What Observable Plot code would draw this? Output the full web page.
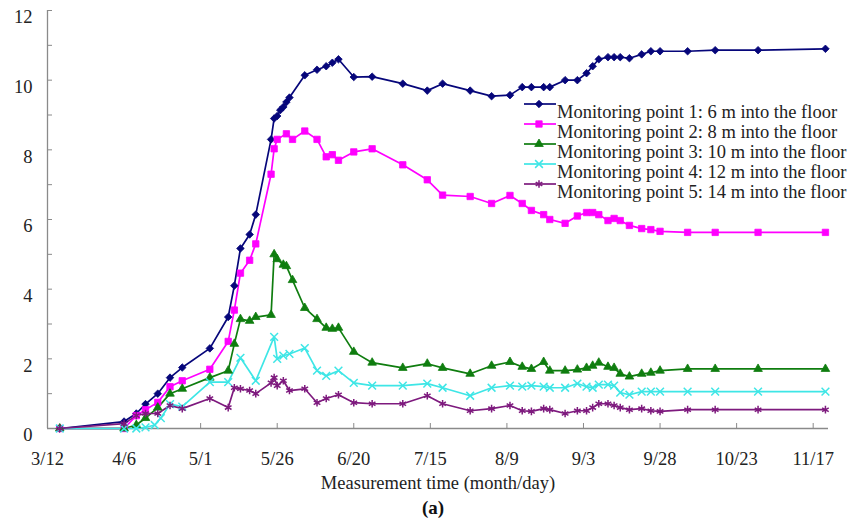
<!DOCTYPE html>
<html><head><meta charset="utf-8">
<script src="https://cdn.jsdelivr.net/npm/d3@7"></script>
<script src="https://cdn.jsdelivr.net/npm/@observablehq/plot@0.6"></script>
<style>
body{margin:0;background:#fff;font-family:"Liberation Serif","Times New Roman",serif;}
#wrap{position:relative;width:862px;height:524px;overflow:hidden;}
#legend{position:absolute;left:0;top:0;}
.lrow{position:absolute;font-size:18.5px;color:#222;white-space:nowrap;line-height:20px;}
#cap{position:absolute;left:0;width:866px;top:497px;text-align:center;font-weight:bold;font-size:19px;color:#111;line-height:22px;}
</style></head><body>
<div id="wrap"><div id="chart"></div><div id="legend"></div><div id="cap">(a)</div></div>
<script>
const seriesNames = [
  "Monitoring point 1: 6 m into the floor",
  "Monitoring point 2: 8 m into the floor",
  "Monitoring point 3: 10 m into the floor",
  "Monitoring point 4: 12 m into the floor",
  "Monitoring point 5: 14 m into the floor"
];
const seriesColors = ["#06067a", "#ff00ff", "#0f7d0f", "#3ee6e6", "#7e1a7e"];
const seriesSymbols = ["diamond2", "square", "triangle", "times", "asterisk"];

const xTickLabels = ["3/12","4/6","5/1","5/26","6/20","7/15","8/9","9/3","9/28","10/23","11/17"];
const xDomainLabels = ["3/12","11/22"];
const yMajor = [0,2,4,6,8,10,12];
const yMinor = [0,1,2,3,4,5,6,7,8,9,10,11,12];

const d1 = ["3/16","4/6","4/10","4/13","4/17","4/21","4/25","5/4","5/10","5/12","5/14","5/17","5/19","5/24","5/25","5/26","5/27","5/28","5/29","5/30","6/4","6/8","6/11","6/13","6/15","6/20","6/26","7/6","7/14","7/19","7/28","8/4","8/10","8/14","8/17","8/21","8/23","8/28","9/1","9/4","9/6","9/8","9/11","9/13","9/15","9/18","9/22","9/25","9/28","10/7","10/16","10/30","11/21"];
const v1 = [0,0.2,0.43,0.7,1.0,1.46,1.75,2.3,3.2,4.1,5.17,5.57,6.14,8.3,8.9,8.97,9.14,9.23,9.37,9.5,10.14,10.3,10.4,10.5,10.6,10.09,10.1,9.9,9.7,9.9,9.7,9.54,9.57,9.8,9.8,9.8,9.8,10.0,10.0,10.2,10.4,10.6,10.66,10.66,10.66,10.63,10.74,10.83,10.83,10.83,10.86,10.86,10.9];

const d2 = ["3/16","4/6","4/10","4/13","4/17","4/21","4/25","5/4","5/10","5/12","5/14","5/17","5/19","5/24","5/25","5/26","5/29","5/31","6/4","6/8","6/11","6/13","6/15","6/20","6/26","7/6","7/14","7/19","7/28","8/4","8/10","8/14","8/17","8/21","8/23","8/28","9/1","9/4","9/6","9/8","9/11","9/13","9/15","9/18","9/22","9/25","9/28","10/7","10/16","10/30","11/21"];
const v2 = [0,0,0.37,0.54,0.75,1.2,1.37,1.7,2.5,3.4,4.46,4.83,5.3,7.3,8.03,8.3,8.46,8.3,8.54,8.3,7.8,7.86,7.7,7.94,8.03,7.57,7.14,6.7,6.66,6.46,6.69,6.46,6.26,6.14,6.0,5.89,6.1,6.2,6.2,6.14,5.97,6.03,5.97,5.83,5.74,5.71,5.66,5.63,5.63,5.63,5.63];

const d3s = ["3/16","4/6","4/10","4/13","4/17","4/21","4/25","5/4","5/10","5/12","5/14","5/17","5/19","5/24","5/25","5/26","5/28","5/29","5/31","6/4","6/8","6/11","6/13","6/15","6/20","6/26","7/6","7/14","7/19","7/28","8/4","8/10","8/14","8/17","8/21","8/23","8/28","9/1","9/4","9/6","9/8","9/11","9/13","9/15","9/18","9/22","9/25","9/28","10/7","10/16","10/30","11/21"];
const v3 = [0,0,0.1,0.3,0.6,1.0,1.14,1.46,1.66,2.43,3.14,3.09,3.2,3.26,5.0,4.86,4.7,4.66,4.26,3.46,3.14,2.89,2.86,2.89,2.2,1.89,1.74,1.86,1.74,1.57,1.8,1.91,1.77,1.71,1.91,1.66,1.66,1.69,1.74,1.8,1.89,1.77,1.74,1.57,1.49,1.57,1.6,1.66,1.71,1.71,1.71,1.71];

const d4 = ["3/16","4/6","4/10","4/13","4/16","4/18","4/21","4/25","5/4","5/10","5/14","5/19","5/25","5/26","5/28","5/30","6/4","6/8","6/11","6/15","6/20","6/26","7/6","7/14","7/19","7/28","8/4","8/10","8/14","8/17","8/21","8/23","8/28","9/1","9/4","9/6","9/8","9/11","9/13","9/15","9/18","9/22","9/25","9/28","10/7","10/16","10/30","11/21"];
const v4 = [0,0,0,0.03,0.1,0.3,0.7,0.63,1.33,1.33,2.03,1.37,2.63,2.0,2.09,2.14,2.31,1.66,1.51,1.66,1.31,1.23,1.23,1.29,1.17,0.94,1.17,1.23,1.2,1.23,1.2,1.17,1.17,1.29,1.2,1.17,1.26,1.26,1.23,1.03,0.97,1.06,1.06,1.06,1.06,1.06,1.06,1.06];

const d5 = ["3/16","4/6","4/10","4/13","4/17","4/21","4/25","5/4","5/10","5/12","5/14","5/17","5/19","5/24","5/25","5/26","5/28","5/30","6/4","6/8","6/11","6/15","6/20","6/26","7/6","7/14","7/19","7/28","8/4","8/10","8/14","8/17","8/21","8/23","8/28","9/1","9/4","9/6","9/8","9/11","9/13","9/15","9/18","9/22","9/25","9/28","10/7","10/16","10/30","11/21"];
const v5 = [0,0.14,0.37,0.43,0.43,0.66,0.57,0.86,0.6,1.17,1.14,1.09,1.0,1.31,1.46,1.23,1.37,1.09,1.14,0.74,0.86,0.97,0.74,0.71,0.71,0.94,0.71,0.51,0.57,0.66,0.51,0.49,0.57,0.54,0.43,0.51,0.51,0.6,0.71,0.71,0.66,0.6,0.54,0.57,0.51,0.49,0.54,0.54,0.54,0.54];

const axisTitle = "Measurement time (month/day)";

const YEAR = 2011;
const parseMD = s => { const [m, d] = s.split("/").map(Number); return new Date(Date.UTC(YEAR, m - 1, d)); };
const fmtMD = d => `${d.getUTCMonth() + 1}/${d.getUTCDate()}`;

const allDates = [d1, d2, d3s, d4, d5];
const allVals = [v1, v2, v3, v4, v5];
const series = allDates.map((ds, i) => {
  const n = Math.min(ds.length, allVals[i].length);
  return d3.range(n).map(j => ({date: parseMD(ds[j]), value: allVals[i][j]}));
});

const symR = [3.4, 3.6, 3.2, 3.6, 3.6];
const filled = [true, true, true, false, false];

const marks = [
  Plot.ruleY([0], {stroke: "#8a8a8a", strokeWidth: 1.3}),
  Plot.ruleX([parseMD(xDomainLabels[0])], {stroke: "#8a8a8a", strokeWidth: 1.3}),
  Plot.axisX({ticks: xTickLabels.map(parseMD), tickSize: -5, tickPadding: 28, tickFormat: fmtMD, stroke: "#8a8a8a", fill: "#222", label: null}),
  Plot.axisY({ticks: yMinor, tickSize: -5, tickFormat: () => "", stroke: "#8a8a8a", label: null}),
  Plot.axisY({ticks: yMajor, tickSize: 0, tickPadding: 15, dy: 7, fill: "#222", label: null}),
  Plot.text([axisTitle], {frameAnchor: "bottom", lineAnchor: "middle", dy: 55, fill: "#222", fontSize: 18.5})
];
series.forEach((rows, i) => {
  marks.push(Plot.line(rows, {x: "date", y: "value", stroke: seriesColors[i], strokeWidth: 1.7}));
});
series.forEach((rows, i) => {
  marks.push(Plot.dot(rows, {
    x: "date", y: "value", symbol: () => seriesSymbols[i], r: symR[i],
    fill: filled[i] ? seriesColors[i] : "none",
    stroke: seriesColors[i], strokeWidth: filled[i] ? 0.8 : 1.5
  }));
});

const chart = Plot.plot({
  width: 862,
  height: 495,
  marginLeft: 47,
  marginRight: 34,
  marginTop: 10,
  marginBottom: 67,
  style: {fontFamily: "'Liberation Serif','Times New Roman',serif", fontSize: "18.5px", color: "#222", background: "white", overflow: "visible"},
  x: {type: "utc", domain: xDomainLabels.map(parseMD)},
  y: {domain: [0, 12]},
  symbol: {type: "identity"},
  marks
});
document.getElementById("chart").appendChild(chart);

// Legend
const d3Sym = {diamond2: d3.symbolDiamond2, square: d3.symbolSquare, triangle: d3.symbolTriangle, times: d3.symbolTimes, asterisk: d3.symbolAsterisk};
const legend = d3.select("#legend");
seriesNames.forEach((name, i) => {
  const symCenter = 104 + 20 * i;
  const textCenter = 112 + 20 * i;
  const sw = legend.append("svg").attr("width", 34).attr("height", 20)
    .style("position", "absolute").style("left", "523px").style("top", (symCenter - 10) + "px");
  sw.append("line").attr("x1", 1).attr("x2", 33).attr("y1", 10).attr("y2", 10)
    .attr("stroke", seriesColors[i]).attr("stroke-width", 1.7);
  sw.append("path").attr("transform", "translate(16,10)")
    .attr("d", d3.symbol(d3Sym[seriesSymbols[i]], Math.PI * symR[i] * symR[i])())
    .attr("fill", filled[i] ? seriesColors[i] : "none")
    .attr("stroke", seriesColors[i]).attr("stroke-width", filled[i] ? 0.8 : 1.5);
  legend.append("div").attr("class", "lrow")
    .style("left", "557px").style("top", (textCenter - 10) + "px")
    .text(name);
});
</script>
</body></html>
